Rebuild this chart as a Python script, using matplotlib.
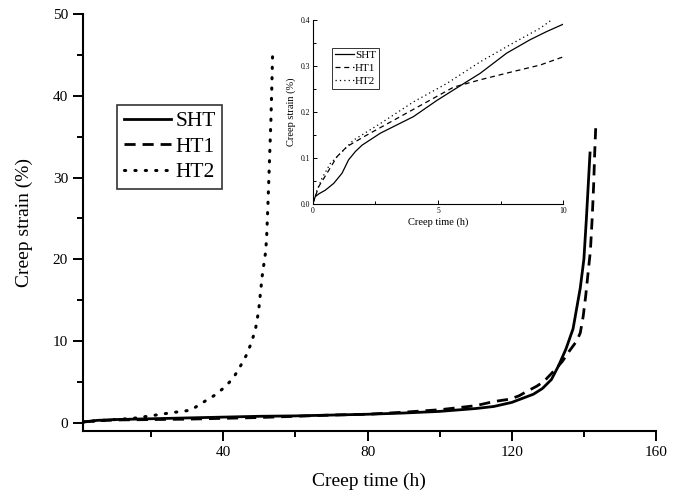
import matplotlib
matplotlib.use("Agg")
import matplotlib.pyplot as plt
from matplotlib.ticker import MultipleLocator

plt.rcParams['font.family'] = ['Liberation Serif', 'DejaVu Serif']

# main plot data: creep time (h) vs creep strain (%)
sht_t = [1, 5, 10, 20, 30, 40, 50, 60, 70, 80, 90, 100, 110, 115, 120, 123, 126,
         128.5, 131, 133, 135, 137, 138, 139, 140, 140.7, 141.2, 141.7]
sht_e = [0.1, 0.3, 0.4, 0.5, 0.6, 0.7, 0.8, 0.85, 0.95, 1.05, 1.2, 1.4, 1.75, 2.0, 2.5,
         3.0, 3.5, 4.2, 5.3, 7.0, 9.0, 11.5, 14, 16.5, 20, 25, 29, 33]

ht1_t = [1, 5, 10, 20, 30, 40, 50, 60, 70, 80, 90, 100, 110, 115, 119.5, 122, 124,
         127, 129, 132, 134, 136, 138, 139, 139.8, 140.5, 141.2, 141.8, 142.3, 142.7,
         143, 143.3]
ht1_e = [0.1, 0.25, 0.35, 0.4, 0.45, 0.55, 0.65, 0.8, 0.95, 1.05, 1.3, 1.6, 2.1, 2.6,
         2.9, 3.3, 3.8, 4.5, 5.1, 6.5, 7.5, 8.8, 10.0, 11, 13, 15.5, 18.5, 21, 25, 29,
         33, 36.3]

ht2_t = [1, 5, 10, 15, 19, 25, 31, 34, 37.7, 40.5, 42.8, 44.7, 46.3, 47.7, 48.9, 49.8,
         50.3, 50.8, 51.7, 52.0, 52.4, 52.8, 53.2, 53.5, 53.7]
ht2_e = [0.1, 0.25, 0.4, 0.55, 0.8, 1.2, 1.55, 2.4, 3.4, 4.4, 5.5, 6.9, 8.2, 9.7, 11.4,
         13.7, 15.9, 18, 20.8, 22.5, 27, 32, 37, 42, 45.7]

# inset data: first 10 h
in_sht_t = [0, 0.1, 0.24, 0.5, 0.84, 1.17, 1.43, 1.7, 1.97, 2.7, 4.02, 4.95, 5.62,
            6.68, 7.74, 8.67, 9.34, 10]
in_sht_e = [0, 0.016, 0.022, 0.03, 0.045, 0.067, 0.096, 0.114, 0.128, 0.154, 0.19,
            0.225, 0.248, 0.284, 0.328, 0.357, 0.375, 0.391]
in_ht1_t = [0, 0.24, 0.57, 0.97, 1.37, 2.03, 3.36, 4.69, 5.62, 6.68, 8.0, 9.07, 10]
in_ht1_e = [0, 0.038, 0.067, 0.103, 0.125, 0.146, 0.186, 0.226, 0.254, 0.27, 0.288,
            0.302, 0.32]
in_ht2_t = [0, 0.17, 0.37, 0.7, 1.1, 1.63, 2.7, 4.02, 5.35, 6.68, 8.0, 9.07, 9.53]
in_ht2_e = [0, 0.03, 0.056, 0.088, 0.11, 0.139, 0.175, 0.222, 0.262, 0.309, 0.35,
            0.382, 0.4]

labels = ['SHT', 'HT1', 'HT2']

fig = plt.figure(figsize=(6.8, 4.94), dpi=100)
ax = fig.add_axes([0.1216, 0.1275, 0.8431, 0.8442])

ax.plot(sht_t, sht_e, color='black', lw=2.0, ls='-', label=labels[0])
ax.plot(ht1_t, ht1_e, color='black', lw=2.0, ls=(0, (4, 2.5)), label=labels[1])
ax.plot(ht2_t, ht2_e, color='black', lw=2.2, ls=(0, (0.4, 3)),
        dash_capstyle='round', label=labels[2])

ax.set_xlim(1, 160)
ax.set_ylim(-1, 50)
ax.xaxis.set_major_locator(MultipleLocator(40))
ax.xaxis.set_minor_locator(MultipleLocator(20))
ax.yaxis.set_major_locator(MultipleLocator(10))
ax.yaxis.set_minor_locator(MultipleLocator(5))
for s in ['top', 'right']:
    ax.spines[s].set_visible(False)
for s in ['left', 'bottom']:
    ax.spines[s].set_linewidth(1.5)
ax.tick_params(which='major', direction='out', length=7, width=1.4, labelsize=11)
ax.tick_params(which='minor', direction='out', length=4, width=1.4)
ax.set_xlabel('Creep time (h)', fontsize=14, labelpad=10)
ax.set_ylabel('Creep strain (%)', fontsize=14, labelpad=14)

leg = ax.legend(loc='upper left', bbox_to_anchor=(0.06, 0.782), fontsize=15.5,
                frameon=True, fancybox=False, edgecolor='black', handlelength=2.2,
                handletextpad=0.2, borderpad=0.3, labelspacing=0.25, borderaxespad=0)
leg.get_frame().set_linewidth(1.2)

# inset
ins = fig.add_axes([0.4599, 0.587, 0.3685, 0.3725])
ins.plot(in_sht_t, in_sht_e, color='black', lw=0.9, ls='-', label=labels[0])
ins.plot(in_ht1_t, in_ht1_e, color='black', lw=0.9, ls=(0, (4, 3)), label=labels[1])
ins.plot(in_ht2_t, in_ht2_e, color='black', lw=0.9, ls=(0, (1, 2.5)), label=labels[2])
ins.set_xlim(0, 10)
ins.set_ylim(0, 0.4)
ins.xaxis.set_major_locator(MultipleLocator(5))
ins.xaxis.set_minor_locator(MultipleLocator(2.5))
ins.yaxis.set_major_locator(MultipleLocator(0.1))
ins.yaxis.set_minor_locator(MultipleLocator(0.05))
ins.yaxis.set_major_formatter(plt.FormatStrFormatter('%.1f'))
for s in ['top', 'right']:
    ins.spines[s].set_visible(False)
for s in ['left', 'bottom']:
    ins.spines[s].set_linewidth(0.8)
ins.tick_params(which='major', direction='in', length=3, width=0.7, labelsize=5.5, pad=2)
ins.tick_params(which='minor', direction='in', length=2, width=0.7)
ins.set_xlabel('Creep time (h)', fontsize=7.5, labelpad=2)
ins.set_ylabel('Creep strain (%)', fontsize=7.5, labelpad=3)
ileg = ins.legend(loc='upper left', bbox_to_anchor=(0.077, 0.85), fontsize=8,
                  frameon=True, fancybox=False, edgecolor='black', handlelength=1.7,
                  handletextpad=0.1, borderpad=0.25, labelspacing=0.3, borderaxespad=0)
ileg.get_frame().set_linewidth(0.7)

fig.savefig('out.png', dpi=100)
